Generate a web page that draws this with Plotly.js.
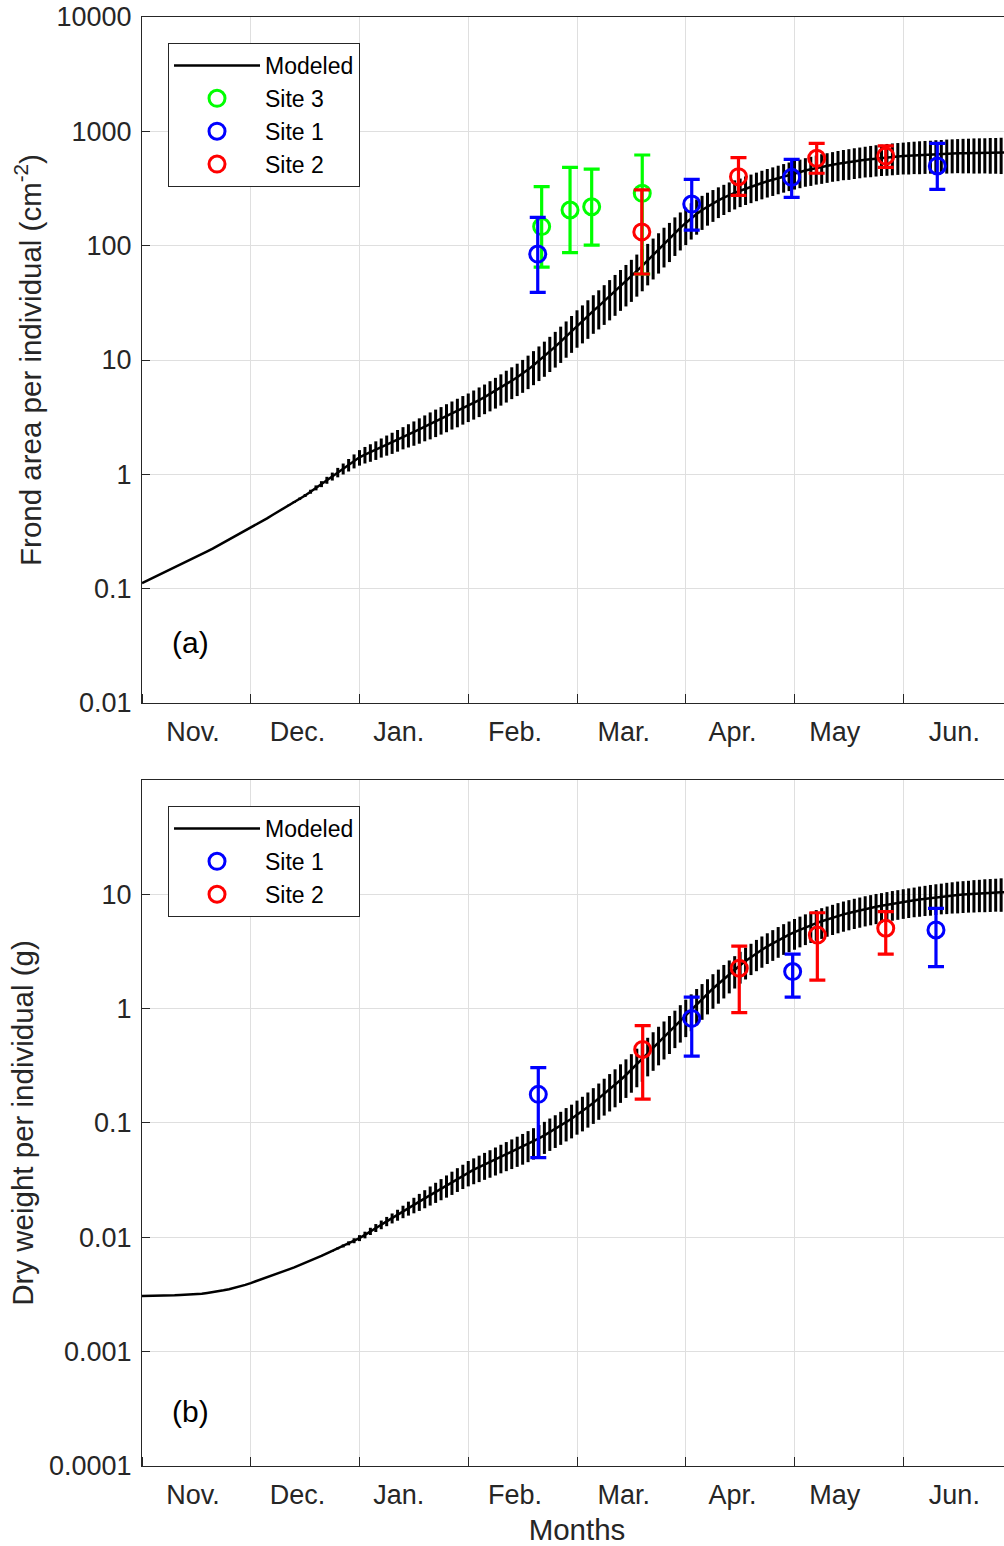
<!DOCTYPE html>
<html><head><meta charset="utf-8">
<script src="https://cdn.plot.ly/plotly-3.0.1.min.js"></script>
<style>html,body{margin:0;padding:0;overflow:hidden;background:#fff}#chart{width:1030px;height:1546px}</style>
</head><body><div id="chart"></div><script>
// x axis in months since 1 Nov (0 = 1 Nov, 1 = 1 Dec, ...)
const monthLabels = ['Nov.','Dec.','Jan.','Feb.','Mar.','Apr.','May','Jun.'];
const monthLabelPos = [0.47,1.43,2.36,3.43,4.43,5.43,6.37,7.47];
const monthBounds = [0,1,2,3,4,5,6,7,8];
const modelStart = 0, modelStep = 0.05;

// (a) Frond area per individual (cm^2), modeled
const frondModel = [0.112,0.118,0.124,0.131,0.138,0.145,0.153,0.161,0.170,0.179,0.188,
0.200,0.212,0.224,0.238,0.252,0.268,0.284,0.301,0.319,0.339,
0.361,0.386,0.412,0.441,0.470,0.502,0.536,0.573,0.611,0.653,
0.705,0.762,0.822,0.889,0.959,1.04,1.12,1.21,1.31,1.41,
1.49,1.56,1.64,1.73,1.82,1.91,2.01,2.12,2.23,2.34,
2.47,2.61,2.75,2.90,3.05,3.22,3.40,3.58,3.78,3.98,
4.21,4.46,4.73,5.04,5.37,5.74,6.15,6.59,7.06,7.59,
8.24,8.99,9.84,10.8,11.9,13.1,14.5,16.1,17.9,20.0,
22.0,24.3,26.9,29.6,32.7,36.1,39.9,44.1,48.6,53.7,
59.7,66.5,74.3,83.0,92.7,104,115,129,143,158,
174,189,205,220,234,249,263,277,290,302,
315,327,340,353,366,378,391,404,417,430,
442,455,466,478,489,499,510,520,530,537,
547,555,564,571,579,585,592,598,603,608,
612,617,620,624,627,631,634,637,640,643,
644,646,647,648,649,650,650,651,652,653];
// relative half-width of the modeled uncertainty bars
const frondRelErr = [0,0,0,0,0,0,0,0,0,0,0,0,0,0,0,0,0,0,0,0,0,0,0,0,0,0,
0.01,0.015,0.02,0.025,0.03,0.04,0.05,0.06,0.07,0.08,
0.095,0.11,0.125,0.14,0.155,0.165,0.175,0.185,0.19,0.20,
0.21,0.215,0.22,0.23,0.24,0.25,0.255,0.265,0.27,0.27,
0.275,0.275,0.28,0.28,0.28,
0.285,0.29,0.29,0.295,0.30,0.305,0.31,0.31,0.315,0.32,
0.325,0.33,0.335,0.34,0.34,0.345,0.35,0.35,0.355,0.36,
0.365,0.37,0.37,0.375,0.38,0.385,0.39,0.39,0.395,0.40,
0.40,0.40,0.395,0.39,0.385,0.38,0.375,0.37,0.365,0.36,
0.35,0.34,0.33,0.32,0.31,0.30,0.295,0.29,0.285,0.28,
0.28,0.28,0.28,0.28,0.28,0.28,0.28,0.28,0.28,0.28,
0.28,0.28,0.285,0.285,0.29,0.29,0.29,0.295,0.295,0.30,
0.30,0.30,0.30,0.305,0.305,0.305,0.31,0.31,0.31,0.31,
0.315,0.315,0.32,0.32,0.32,0.325,0.325,0.33,0.33,0.33,
0.335,0.335,0.34,0.34,0.34,0.345,0.345,0.35,0.35,0.35];

const frondSite3Time = [3.675,3.936,4.135,4.600];
const frondSite3Value = [147,205,219,287];
const frondSite3Upper = [328,484,468,621];
const frondSite3Lower = [65,87,101,56.5];
const frondSite1Time = [3.639,5.055,5.974,7.313];
const frondSite1Value = [84.5,231,396,498];
const frondSite1Upper = [177,380,569,785];
const frondSite1Lower = [39,137,265,311];
const frondSite2Time = [4.596,5.485,6.204,6.839];
const frondSite2Value = [132,401,581,608];
const frondSite2Upper = [307,590,785,745];
const frondSite2Lower = [56.5,275,430,484];

// (b) Dry weight per individual (g), modeled
const dryModel = [0.00307,0.00307,0.00308,0.00308,0.00309,0.00310,0.00311,0.00313,0.00314,0.00316,0.00318,
0.00321,0.00326,0.00331,0.00337,0.00344,0.00352,0.00361,0.00372,0.00384,0.00398,
0.00413,0.00429,0.00446,0.00463,0.00482,0.00502,0.00524,0.00546,0.00570,0.00596,
0.00624,0.00655,0.00687,0.00723,0.00760,0.00800,0.00841,0.00887,0.00935,0.00986,
0.0105,0.0113,0.0121,0.0129,0.0138,0.0147,0.0157,0.0168,0.0180,0.0192,
0.0205,0.0219,0.0234,0.0250,0.0267,0.0285,0.0305,0.0326,0.0348,0.0372,
0.0391,0.0411,0.0433,0.0455,0.0479,0.0504,0.0530,0.0557,0.0586,0.0617,
0.0652,0.0690,0.0733,0.0780,0.0832,0.0887,0.0948,0.102,0.109,0.118,
0.127,0.138,0.150,0.164,0.180,0.197,0.216,0.238,0.263,0.292,
0.326,0.364,0.406,0.454,0.507,0.566,0.632,0.706,0.789,0.881,
0.984,1.10,1.22,1.35,1.50,1.65,1.82,2.00,2.19,2.40,
2.61,2.83,3.06,3.28,3.51,3.74,3.98,4.22,4.45,4.68,
4.91,5.14,5.37,5.60,5.82,6.04,6.25,6.47,6.68,6.87,
7.06,7.24,7.43,7.60,7.78,7.94,8.11,8.28,8.43,8.59,
8.74,8.88,9.03,9.16,9.29,9.42,9.54,9.66,9.77,9.87,
9.95,10.03,10.12,10.19,10.26,10.31,10.37,10.42,10.45,10.47];
const dryRelErr = [0,0,0,0,0,0,0,0,0,0,0,0,0,0,0,0,0,0,0,0,0,0,0,0,0,0,0,0,0,0,0,0,0,
0.005,0.01,0.015,0.02,0.03,0.04,0.05,0.06,
0.067,0.073,0.08,0.087,0.093,0.10,0.11,0.125,0.14,0.155,
0.17,0.18,0.19,0.20,0.21,0.22,0.23,0.235,0.24,0.25,
0.255,0.26,0.265,0.27,0.275,0.28,0.285,0.29,0.295,0.30,
0.303,0.306,0.309,0.312,0.315,0.318,0.321,0.324,0.327,0.33,
0.335,0.34,0.345,0.35,0.355,0.36,0.365,0.37,0.37,0.37,
0.37,0.37,0.37,0.37,0.37,0.365,0.365,0.36,0.36,0.36,
0.355,0.35,0.345,0.34,0.335,0.33,0.325,0.32,0.315,0.31,
0.31,0.305,0.305,0.305,0.30,0.30,0.30,0.30,0.30,0.30,
0.30,0.30,0.30,0.30,0.30,0.295,0.295,0.295,0.295,0.295,
0.295,0.295,0.295,0.295,0.295,0.29,0.29,0.29,0.29,0.29,
0.29,0.29,0.295,0.295,0.30,0.30,0.30,0.305,0.305,0.31,
0.31,0.31,0.315,0.315,0.32,0.32,0.32,0.325,0.325,0.33];

const drySite1Time = [3.644,5.055,5.983,7.301];
const drySite1Value = [0.178,0.822,2.11,4.88];
const drySite1Upper = [0.305,1.26,3.0,7.55];
const drySite1Lower = [0.0497,0.385,1.26,2.33];
const drySite2Time = [4.604,5.492,6.210,6.839];
const drySite2Value = [0.44,2.26,4.4,5.05];
const drySite2Upper = [0.71,3.53,6.9,7.05];
const drySite2Lower = [0.162,0.922,1.78,3.0];

const INK = '#262626';
const FONT = 'Liberation Sans, Arial, Helvetica, sans-serif';

function modelTrace(vals, rel, xa, ya, leg) {
  return {
    type: 'scatter', mode: 'lines', name: 'Modeled',
    x0: modelStart, dx: modelStep, y: vals,
    xaxis: xa, yaxis: ya, legend: leg,
    line: {color: '#000', width: 2.5},
    error_y: {type: 'data', symmetric: true, array: vals.map((v, i) => v * rel[i]),
      color: '#000', thickness: 3, width: 0},
    hoverinfo: 'skip'
  };
}
function siteTrace(name, color, t, v, up, lo, xa, ya, leg) {
  return {
    type: 'scatter', mode: 'markers', name: name,
    x: t, y: v, xaxis: xa, yaxis: ya, legend: leg,
    marker: {symbol: 'circle-open', size: 16, color: color, line: {width: 3, color: color}},
    error_y: {type: 'data', symmetric: false,
      array: up.map((u, i) => u - v[i]), arrayminus: lo.map((l, i) => v[i] - l),
      color: color, thickness: 3.2, width: 8}
  };
}

const data = [
  modelTrace(frondModel, frondRelErr, 'x', 'y', 'legend'),
  siteTrace('Site 3', '#00ff00', frondSite3Time, frondSite3Value, frondSite3Upper, frondSite3Lower, 'x', 'y', 'legend'),
  siteTrace('Site 1', '#0000ff', frondSite1Time, frondSite1Value, frondSite1Upper, frondSite1Lower, 'x', 'y', 'legend'),
  siteTrace('Site 2', '#ff0000', frondSite2Time, frondSite2Value, frondSite2Upper, frondSite2Lower, 'x', 'y', 'legend'),
  modelTrace(dryModel, dryRelErr, 'x2', 'y2', 'legend2'),
  siteTrace('Site 1', '#0000ff', drySite1Time, drySite1Value, drySite1Upper, drySite1Lower, 'x2', 'y2', 'legend2'),
  siteTrace('Site 2', '#ff0000', drySite2Time, drySite2Value, drySite2Upper, drySite2Lower, 'x2', 'y2', 'legend2')
];

function xAxis(anchor, withTitle) {
  const ax = {
    anchor: anchor, domain: [0, 1], range: [0, 8], fixedrange: true,
    tickmode: 'array', tickvals: monthLabelPos, ticktext: monthLabels,
    ticks: '', showgrid: false, zeroline: false,
    showline: true, linecolor: INK, linewidth: 1, mirror: true,
    tickfont: {family: FONT, size: 27, color: INK}, ticklabelstandoff: 5,
    minor: {tickmode: 'array', tickvals: monthBounds, ticks: 'inside', ticklen: 9,
      tickcolor: INK, tickwidth: 1, showgrid: true, gridcolor: '#dfdfdf', gridwidth: 1}
  };
  if (withTitle) ax.title = {text: 'Months', font: {family: FONT, size: 29.5, color: INK}, standoff: 11};
  return ax;
}
function yAxis(anchor, domain, range, vals, texts, title, standoff) {
  return {
    anchor: anchor, domain: domain, type: 'log', range: range, fixedrange: true,
    tickmode: 'array', tickvals: vals, ticktext: texts,
    ticks: 'inside', ticklen: 8, tickcolor: INK, tickwidth: 1,
    showgrid: true, gridcolor: '#dfdfdf', gridwidth: 1, zeroline: false,
    showline: true, linecolor: INK, linewidth: 1, mirror: 'ticks',
    tickfont: {family: FONT, size: 27, color: INK}, ticklabelstandoff: 4,
    title: {text: title, font: {family: FONT, size: 29.5, color: INK}, standoff: standoff}
  };
}

const legendStyle = {
  bgcolor: '#ffffff', bordercolor: INK, borderwidth: 1,
  font: {family: FONT, size: 23, color: '#000'},
  xref: 'paper', yref: 'paper', xanchor: 'left', yanchor: 'top',
  itemwidth: 86, tracegroupgap: 0
};

const layout = {
  width: 1030, height: 1546,
  margin: {l: 142, r: 18, t: 17, b: 80},
  paper_bgcolor: '#fff', plot_bgcolor: '#fff',
  showlegend: true,
  xaxis: xAxis('y', false),
  xaxis2: xAxis('y2', true),
  yaxis: yAxis('x', [0.52657, 1], [-2, 4],
    [0.01, 0.1, 1, 10, 100, 1000, 10000],
    ['0.01', '0.1', '1', '10', '100', '1000', '10000'],
    'Frond area per individual (cm<sup>-2</sup>)', 6),
  yaxis2: yAxis('x2', [0, 0.47343], [-4, 2],
    [0.0001, 0.001, 0.01, 0.1, 1, 10],
    ['0.0001', '0.001', '0.01', '0.1', '1', '10'],
    'Dry weight per individual (g)', 6),
  legend: Object.assign({x: 0.0299, y: 0.9821}, legendStyle),
  legend2: Object.assign({x: 0.0299, y: 0.4555}, legendStyle),
  annotations: [
    {text: '(a)', xref: 'x', yref: 'paper', x: 0.45, y: 0.568, xanchor: 'center', yanchor: 'middle',
      showarrow: false, font: {family: FONT, size: 30, color: '#000'}},
    {text: '(b)', xref: 'x2', yref: 'paper', x: 0.45, y: 0.0373, xanchor: 'center', yanchor: 'middle',
      showarrow: false, font: {family: FONT, size: 30, color: '#000'}}
  ]
};

Plotly.newPlot('chart', data, layout, {staticPlot: true, displayModeBar: false});
</script></body></html>
